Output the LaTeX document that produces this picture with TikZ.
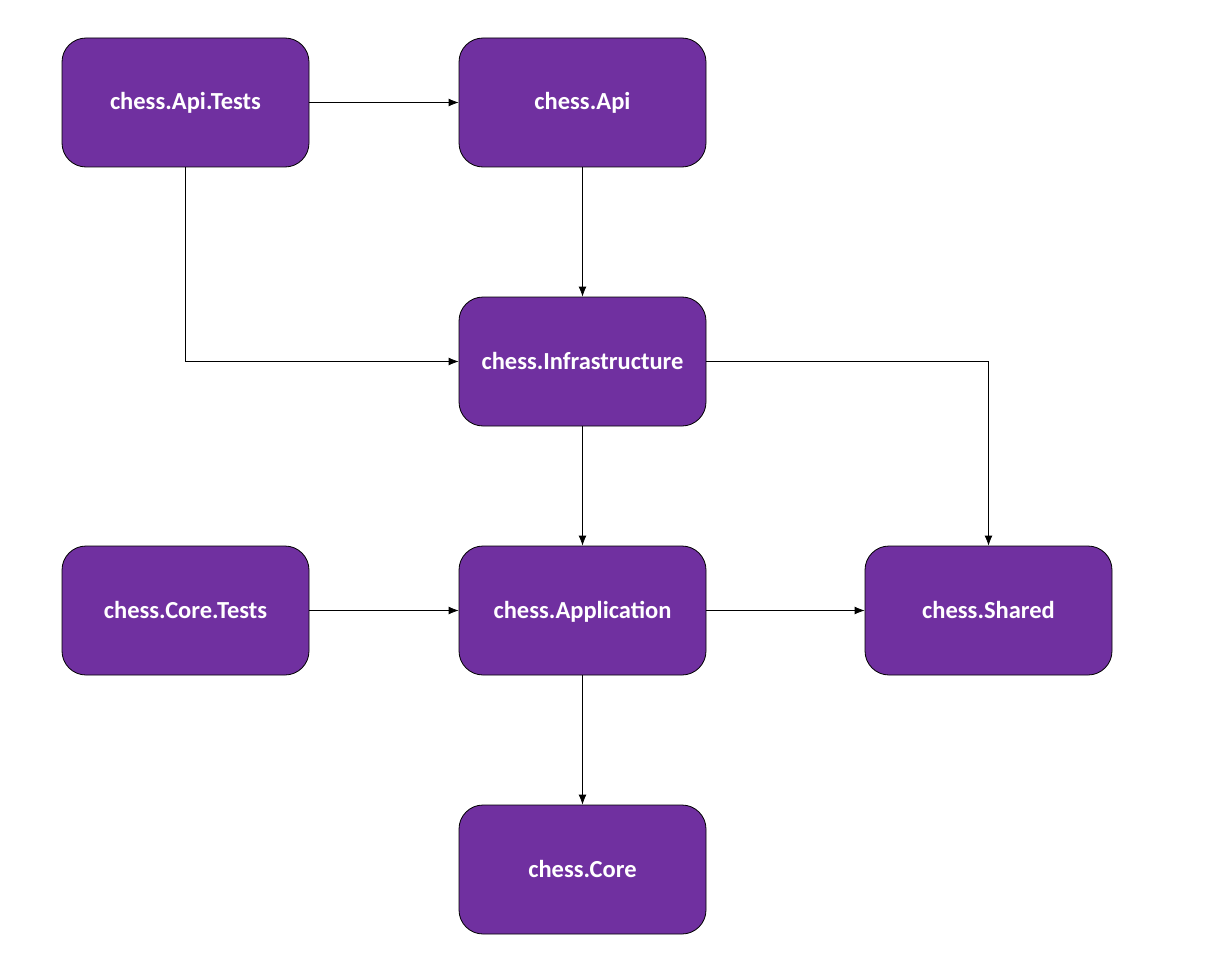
\documentclass[tikz,border=0pt]{standalone}
\usepackage{fontspec}
\setmainfont{Carlito}
\usepackage{xcolor}
\usepackage{tikz}
\usetikzlibrary{shapes,arrows.meta,positioning,fit,calc}
\definecolor{chesspurple}{RGB}{112,48,160}

\tikzset{
    project/.style={draw=black, line width=0.8pt, fill=chesspurple, rounded corners=24pt,
        minimum width=247pt, minimum height=129pt, inner sep=0pt,
        text height=18pt, text depth=3pt,
        text=white, font=\fontsize{24.5}{28}\selectfont\bfseries},
    dep/.style={draw=black, line width=0.8pt, -{Latex[length=10pt,width=8pt]}}
}

\begin{document}
\begin{tikzpicture}[x=1pt, y=-1pt]
    \useasboundingbox (0,0) rectangle (1208,955);

    \node[project] (apitests) at (185.5,102.5) {chess.Api.Tests};
    \node[project] (api) at (582.5,102.5) {chess.Api};
    \node[project] (infra) at (582.5,361.5) {chess.Infrastructure};
    \node[project] (coretests) at (185.5,610.5) {chess.Core.Tests};
    \node[project] (app) at (582.5,610.5) {chess.Application};
    \node[project] (shared) at (988.5,610.5) {chess.Shared};
    \node[project] (core) at (582.5,869.5) {chess.Core};

    \draw[dep] (apitests) -- (api);
    \draw[dep] (apitests.south) |- (infra.west);
    \draw[dep] (api) -- (infra);
    \draw[dep] (infra.east) -| (shared.north);
    \draw[dep] (infra) -- (app);
    \draw[dep] (coretests) -- (app);
    \draw[dep] (app) -- (shared);
    \draw[dep] (app) -- (core);
\end{tikzpicture}
\end{document}
